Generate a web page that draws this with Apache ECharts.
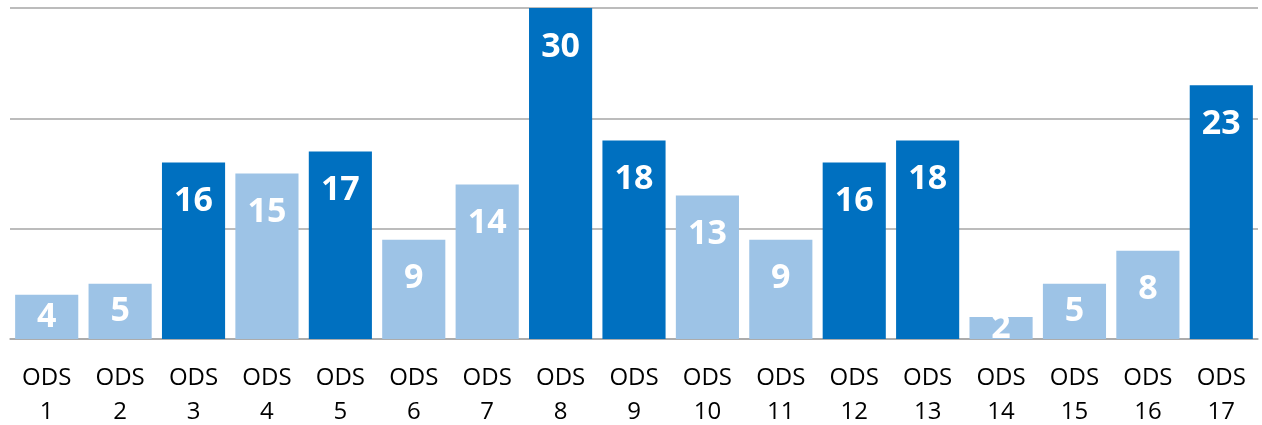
<!DOCTYPE html>
<html>
<head>
<meta charset="utf-8">
<script src="https://cdn.jsdelivr.net/npm/echarts@6/dist/echarts.min.js"></script>
<style>
    html, body { margin: 0; padding: 0; background: #fff; }
    #chart { width: 1262px; height: 425px; }
</style>
</head>
<body>
<div id="chart"></div>
<script>
    // categories and values
    const categories = ['ODS\n1', 'ODS\n2', 'ODS\n3', 'ODS\n4', 'ODS\n5', 'ODS\n6', 'ODS\n7', 'ODS\n8', 'ODS\n9',
        'ODS\n10', 'ODS\n11', 'ODS\n12', 'ODS\n13', 'ODS\n14', 'ODS\n15', 'ODS\n16', 'ODS\n17']
    const values = [4, 5, 16, 15, 17, 9, 14, 30, 18, 13, 9, 16, 18, 2, 5, 8, 23]
    // which bars are highlighted (dark blue)
    const highlighted = [false, false, true, false, true, false, false, true, true, false, false, true, true, false, false, false, true]

    const DARK = '#0070C0'
    const LIGHT = '#9DC3E6'

    let chart = echarts.init(document.getElementById('chart'))
    let options = {
        animation: false,
        textStyle: {
            fontFamily: 'Open Sans'
        },
        grid: {
            left: 10,
            right: 4,
            top: 8,
            bottom: 86,
            containLabel: false,
            outerBoundsMode: 'none'
        },
        xAxis: {
            type: 'category',
            data: categories,
            axisLine: {
                lineStyle: { color: '#A6A6A6', width: 1.5 }
            },
            axisTick: {
                length: 8,
                lineStyle: { color: '#A6A6A6', width: 1.5 }
            },
            axisLabel: {
                color: '#000',
                fontSize: 24,
                lineHeight: 34,
                margin: 22,
                interval: 0
            }
        },
        yAxis: {
            type: 'value',
            min: 0,
            max: 30,
            interval: 10,
            axisLabel: { show: false },
            axisLine: { show: false },
            axisTick: { show: false },
            splitLine: {
                lineStyle: { color: '#A6A6A6', width: 1.5 }
            }
        },
        series: [{
            type: 'bar',
            barCategoryGap: '14%',
            data: values.map((v, i) => {
                return {
                    value: v,
                    itemStyle: { color: highlighted[i] ? DARK : LIGHT },
                    label: v <= 5 ? { position: 'inside' } : { position: 'insideTop', distance: 22 }
                }
            }),
            label: {
                show: true,
                color: '#fff',
                fontSize: 34,
                fontWeight: 'bold',
                fontFamily: 'Open Sans'
            }
        }]
    }
    chart.setOption(options)
</script>
</body>
</html>
